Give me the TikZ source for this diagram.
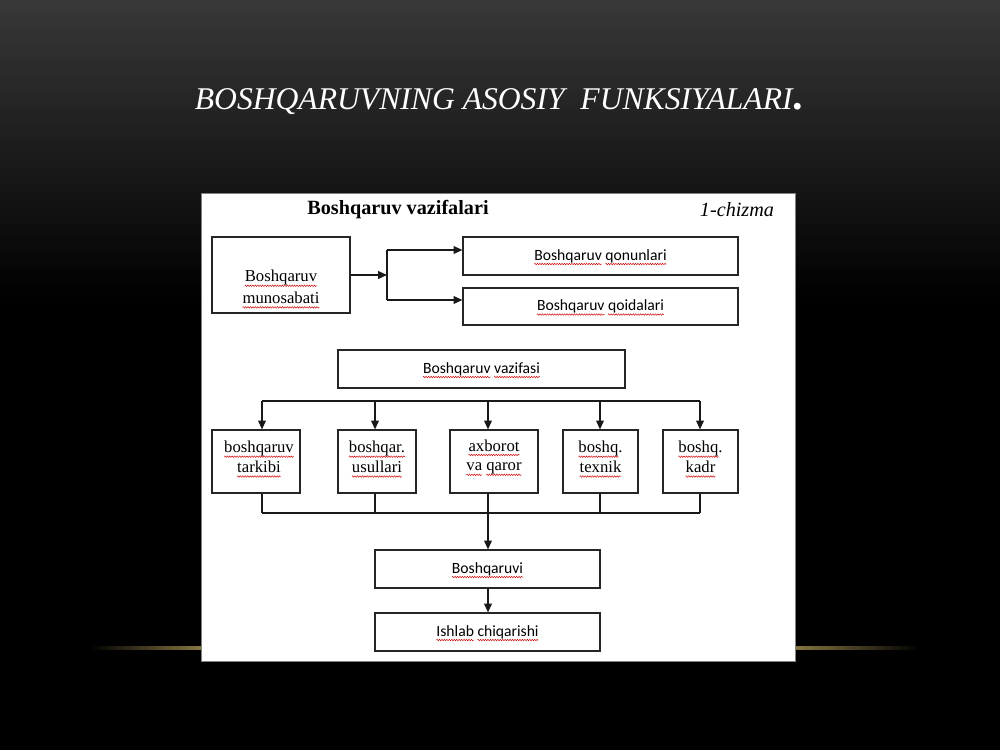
\documentclass[tikz,border=0pt]{standalone}
\usepackage{fontspec}
\setmainfont{Liberation Serif}
\newfontfamily\calfont{Carlito}
\newfontfamily\titlefont{Liberation Serif}
\usetikzlibrary{arrows.meta,decorations.pathmorphing}
\definecolor{bgtop}{HTML}{383838}
\definecolor{glow}{HTML}{8C7A44}
\newsavebox\sqbox
\newcommand\sq[1]{\sbox\sqbox{#1}\usebox\sqbox\llap{\tikz[baseline=0pt]{\useasboundingbox (0pt,0pt) rectangle (\wd\sqbox,0pt);
  \draw[red!80!black, line width=0.25pt, decorate, decoration={zigzag, amplitude=0.45pt, segment length=1.4pt}] (0pt,-2.2pt) -- (\wd\sqbox,-2.2pt);}}}
\begin{document}
\begin{tikzpicture}[x=0.02cm,y=-0.02cm,
  box/.style={draw=black!85, line width=0.7pt, inner sep=0pt, fill=white},
  sbox/.style={box, font=\calfont\fontsize{8.9}{10}\selectfont},
  tbox/.style={box, align=center, font=\fontsize{9.5}{11.3}\selectfont},
  tlab/.style={align=center, font=\fontsize{9.5}{11.3}\selectfont, inner sep=0pt},
  conn/.style={draw=black!90, line width=0.7pt},
  arr/.style={conn, -{Triangle[length=5pt,width=4.4pt]}}]
\useasboundingbox (0,0) rectangle (1000,750);
% background
\fill[black] (0,0) rectangle (1000,750);
\shade[top color=bgtop, bottom color=black] (0,0) rectangle (1000,300);
\shade[left color=black, right color=glow] (90,646.5) rectangle (205,649.5);
\shade[left color=glow, right color=black] (790,646.5) rectangle (920,649.5);
% title
\node[text=white, font=\titlefont\itshape\fontsize{18}{22}\selectfont, anchor=base] (title) at (499,110)
  {BOSHQARUVNING ASOSIY\ \ FUNKSIYALARI{\upshape\bfseries\fontsize{24}{22}\selectfont.}};
% panel
\fill[white, draw=black!50, line width=0.4pt] (201,193) rectangle (795,661);
\node[font=\bfseries\fontsize{11.5}{13}\selectfont] (head) at (398,210) {Boshqaruv vazifalari};
\node[font=\itshape\fontsize{11.5}{13}\selectfont] (chz) at (737,210) {1-chizma};
% top part
\node[box, minimum width=138*0.02cm, minimum height=76*0.02cm] (mun) at (281,275) {};
\node[tlab] (munt) at (281,287) {\sq{Boshqaruv}\\[1pt]\sq{munosabati}};
\node[sbox, minimum width=275*0.02cm, minimum height=38*0.02cm] (qon) at (600.5,256) {\sq{Boshqaruv} \sq{qonunlari}};
\node[sbox, minimum width=275*0.02cm, minimum height=37*0.02cm] (qoi) at (600.5,306.5) {\sq{Boshqaruv} \sq{qoidalari}};
\coordinate (sp) at (387,275);
\coordinate (s1) at (387,250);
\coordinate (s2) at (387,300);
\draw[arr] (mun.east |- sp) -- (sp);
\draw[conn] (s1) -- (s2);
\draw[arr] (s1) -- (s1 -| qon.west);
\draw[arr] (s2) -- (s2 -| qoi.west);
% middle
\node[sbox, minimum width=287*0.02cm, minimum height=38*0.02cm] (vaz) at (481.5,369) {\sq{Boshqaruv} \sq{vazifasi}};
\node[box, minimum width=88*0.02cm, minimum height=63*0.02cm] (b1) at (256,461.5) {};
\node[box, minimum width=78*0.02cm, minimum height=63*0.02cm] (b2) at (377,461.5) {};
\node[box, minimum width=88*0.02cm, minimum height=63*0.02cm] (b3) at (494,461.5) {};
\node[box, minimum width=75*0.02cm, minimum height=63*0.02cm] (b4) at (600.5,461.5) {};
\node[box, minimum width=75*0.02cm, minimum height=63*0.02cm] (b5) at (700.5,461.5) {};
\node[tlab] (t1) at (259,457) {\sq{boshqaruv}\\\sq{tarkibi}};
\node[tlab] (t2) at (377,457) {\sq{boshqar.}\\\sq{usullari}};
\node[tlab] (t3) at (494,457) {\sq{axborot}\\\sq{va} \sq{qaror}};
\node[tlab] (t4) at (600.5,457) {\sq{boshq}.\\\sq{texnik}};
\node[tlab] (t5) at (700.5,457) {\sq{boshq}.\\\sq{kadr}};
\coordinate (h1) at (262,401);
\coordinate (h2) at (375,401);
\coordinate (h3) at (488,401);
\coordinate (h4) at (600,401);
\coordinate (h5) at (700,401);
\draw[conn] (h1) -- (h5);
\draw[arr] (h1) -- (h1 |- b1.north);
\draw[arr] (h2) -- (h2 |- b2.north);
\draw[arr] (h3) -- (h3 |- b3.north);
\draw[arr] (h4) -- (h4 |- b4.north);
\draw[arr] (h5) -- (h5 |- b5.north);
\coordinate (l1) at (262,513);
\coordinate (l2) at (375,513);
\coordinate (l3) at (488,513);
\coordinate (l4) at (600,513);
\coordinate (l5) at (700,513);
\draw[conn] (l1) -- (l5);
\draw[conn] (l1 |- b1.south) -- (l1);
\draw[conn] (l2 |- b2.south) -- (l2);
\draw[conn] (l3 |- b3.south) -- (l3);
\draw[conn] (l4 |- b4.south) -- (l4);
\draw[conn] (l5 |- b5.south) -- (l5);
% bottom
\node[sbox, minimum width=225*0.02cm, minimum height=38*0.02cm] (bv) at (487.5,569) {\sq{Boshqaruvi}};
\node[sbox, minimum width=225*0.02cm, minimum height=38*0.02cm] (ic) at (487.5,632) {\sq{Ishlab} \sq{chiqarishi}};
\draw[arr] (l3) -- (l3 |- bv.north);
\draw[arr] (l3 |- bv.south) -- (l3 |- ic.north);
\end{tikzpicture}
\end{document}
